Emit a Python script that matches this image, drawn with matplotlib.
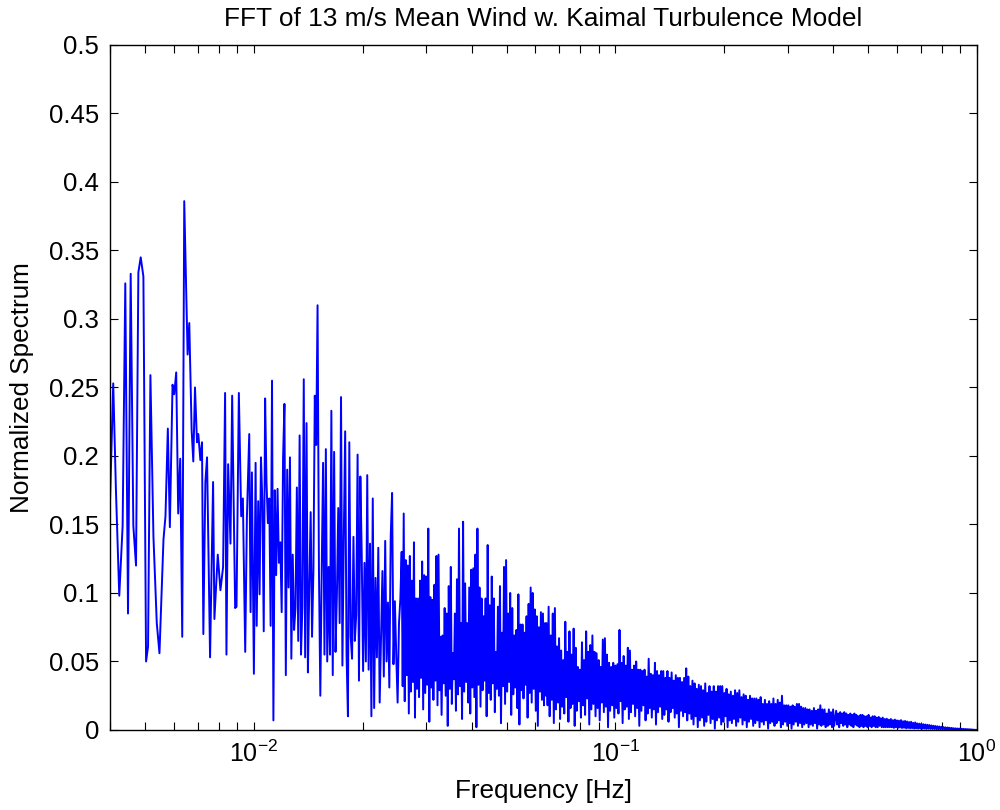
import numpy as np
import matplotlib
matplotlib.use('Agg')
import matplotlib.pyplot as plt
from matplotlib.ticker import FormatStrFormatter

plt.rcParams['font.family'] = ['Liberation Sans', 'DejaVu Sans']
plt.rcParams['mathtext.default'] = 'regular'

# low frequency part, individual FFT bins
freqA = [0.003981, 0.004083, 0.004154, 0.004243, 0.004335, 0.004409, 0.004486, 0.004563, 0.004641, 0.004721,
         0.004792, 0.004864, 0.004948, 0.005033, 0.005097, 0.005174, 0.005275, 0.005388, 0.005481, 0.005623,
         0.005695, 0.005781, 0.005856, 0.005957, 0.006020, 0.006098, 0.006176, 0.006256, 0.006337, 0.006418,
         0.006557, 0.006627, 0.006727, 0.006799, 0.006873, 0.006961, 0.007020, 0.007111, 0.007187, 0.007248,
         0.007342, 0.007421, 0.007565, 0.007712, 0.007777, 0.007945, 0.008081, 0.008220, 0.008325, 0.008397,
         0.008488, 0.008615, 0.008708, 0.008876, 0.008953, 0.009087, 0.009224, 0.009323, 0.009463, 0.009565,
         0.009709, 0.009792, 0.009875, 0.010000, 0.01011, 0.01018]
specA = [0.146, 0.253, 0.175, 0.098, 0.149, 0.326, 0.085, 0.333, 0.149, 0.120,
         0.334, 0.345, 0.331, 0.050, 0.061, 0.259, 0.141, 0.078, 0.056, 0.139,
         0.156, 0.220, 0.148, 0.252, 0.245, 0.261, 0.158, 0.198, 0.068, 0.386,
         0.274, 0.297, 0.219, 0.196, 0.250, 0.210, 0.216, 0.197, 0.210, 0.070,
         0.181, 0.199, 0.053, 0.181, 0.081, 0.128, 0.102, 0.119, 0.246, 0.055,
         0.194, 0.136, 0.244, 0.089, 0.090, 0.246, 0.156, 0.169, 0.057, 0.155,
         0.216, 0.086, 0.188, 0.041, 0.195, 0.076]

# 0.0103 - 0.0254 Hz
rangeB = (0.01028, 0.02542)
specB = [0.167, 0.099, 0.199, 0.167, 0.072, 0.242, 0.181, 0.151, 0.169, 0.076, 0.255, 0.007, 0.175, 0.113,
         0.176, 0.122, 0.137, 0.086, 0.198, 0.238, 0.040, 0.190, 0.104, 0.199, 0.052, 0.128, 0.073, 0.089,
         0.177, 0.065, 0.215, 0.055, 0.090, 0.256, 0.053, 0.224, 0.042, 0.104, 0.159, 0.068, 0.117, 0.244,
         0.208, 0.310, 0.117, 0.025, 0.116, 0.195, 0.055, 0.205, 0.050, 0.119, 0.055, 0.233, 0.040, 0.203,
         0.057, 0.098, 0.162, 0.078, 0.243, 0.047, 0.141, 0.218, 0.055, 0.010, 0.210, 0.068, 0.052, 0.141,
         0.065, 0.084, 0.201, 0.036, 0.185, 0.128, 0.043, 0.122, 0.050, 0.186, 0.044, 0.136, 0.010, 0.169,
         0.016, 0.111, 0.053, 0.133, 0.020, 0.070, 0.116, 0.039, 0.138, 0.050, 0.093, 0.031, 0.141, 0.173,
         0.048, 0.094, 0.055, 0.020, 0.078, 0.096]

# denser part: peaks and troughs in turn
rangeC = (0.02563, 0.06427)
peaksC = [0.130, 0.158, 0.124, 0.120, 0.127, 0.109, 0.137, 0.096, 0.096, 0.109, 0.123, 0.113, 0.112, 0.147,
          0.097, 0.095, 0.106, 0.127, 0.128, 0.068, 0.069, 0.089, 0.085, 0.105, 0.119, 0.056, 0.085, 0.110,
          0.147, 0.078, 0.152, 0.107, 0.078, 0.104, 0.117, 0.118, 0.128, 0.147, 0.104, 0.096, 0.083, 0.096,
          0.135, 0.091, 0.112, 0.096, 0.057, 0.090, 0.105, 0.071, 0.119, 0.124, 0.085, 0.100, 0.089, 0.069,
          0.073, 0.099, 0.077, 0.077, 0.071, 0.083, 0.092, 0.104, 0.100, 0.088, 0.083, 0.075, 0.086, 0.085,
          0.078]
troughsC = [0.032, 0.021, 0.040, 0.012, 0.028, 0.035, 0.009, 0.030, 0.024, 0.038, 0.015, 0.027, 0.033, 0.006,
            0.031, 0.022, 0.036, 0.018, 0.029, 0.011, 0.034, 0.025, 0.003, 0.030, 0.019, 0.037, 0.014, 0.026,
            0.032, 0.008, 0.028, 0.035, 0.020, 0.012, 0.031, 0.024, 0.002, 0.033, 0.017, 0.029, 0.036, 0.010,
            0.027, 0.022, 0.034, 0.013, 0.030, 0.025, 0.005, 0.032, 0.019, 0.028, 0.035, 0.011, 0.026, 0.031,
            0.016, 0.004, 0.029, 0.023, 0.033, 0.009, 0.027, 0.020, 0.030, 0.014, 0.003, 0.028, 0.022, 0.018,
            0.025]

rangeD = (0.06448, 0.1601)
peaksD = [0.078, 0.090, 0.069, 0.085, 0.089, 0.061, 0.067, 0.058, 0.051, 0.079, 0.057, 0.072, 0.055, 0.074,
          0.060, 0.046, 0.044, 0.064, 0.051, 0.072, 0.057, 0.062, 0.069, 0.057, 0.056, 0.051, 0.046, 0.066,
          0.067, 0.055, 0.049, 0.046, 0.049, 0.047, 0.048, 0.073, 0.049, 0.054, 0.047, 0.060, 0.058, 0.044,
          0.047, 0.050, 0.044, 0.044, 0.043, 0.044, 0.039, 0.052, 0.041, 0.040, 0.049, 0.043, 0.040, 0.043,
          0.043, 0.038, 0.043, 0.038, 0.042, 0.036, 0.040, 0.038, 0.038, 0.035, 0.038, 0.045, 0.039]
troughsD = [0.018, 0.010, 0.022, 0.005, 0.015, 0.020, 0.008, 0.017, 0.012, 0.024, 0.006, 0.016, 0.019, 0.003,
            0.014, 0.021, 0.009, 0.018, 0.011, 0.023, 0.004, 0.015, 0.019, 0.010, 0.016, 0.007, 0.020, 0.013,
            0.017, 0.002, 0.014, 0.018, 0.009, 0.016, 0.012, 0.021, 0.005, 0.015, 0.017, 0.008, 0.013, 0.019,
            0.010, 0.016, 0.003, 0.014, 0.018, 0.007, 0.012, 0.016, 0.009, 0.015, 0.004, 0.013, 0.017, 0.008,
            0.011, 0.015, 0.006, 0.013, 0.016, 0.009, 0.012, 0.002, 0.014, 0.010, 0.013, 0.007, 0.012]

rangeE = (0.1611, 0.4027)
peaksE = [0.032, 0.036, 0.034, 0.030, 0.033, 0.032, 0.029, 0.034, 0.027, 0.032, 0.028, 0.032, 0.028, 0.032,
          0.032, 0.032, 0.027, 0.030, 0.026, 0.028, 0.025, 0.029, 0.027, 0.029, 0.024, 0.026, 0.025, 0.022,
          0.025, 0.023, 0.023, 0.023, 0.022, 0.024, 0.019, 0.022, 0.019, 0.021, 0.019, 0.023, 0.019, 0.022,
          0.020, 0.025, 0.018, 0.018, 0.018, 0.017, 0.018, 0.017, 0.019, 0.019, 0.017, 0.016, 0.016, 0.015,
          0.015, 0.014, 0.016, 0.014, 0.015, 0.018, 0.015, 0.015, 0.012, 0.015, 0.013, 0.015]
troughsE = [0.008, 0.004, 0.010, 0.002, 0.007, 0.009, 0.003, 0.006, 0.011, 0.005, 0.008, 0.001, 0.007, 0.009,
            0.004, 0.006, 0.010, 0.002, 0.007, 0.005, 0.008, 0.003, 0.006, 0.009, 0.004, 0.007, 0.002, 0.006,
            0.008, 0.003, 0.005, 0.007, 0.002, 0.006, 0.004, 0.007, 0.001, 0.005, 0.006, 0.003, 0.005, 0.007,
            0.002, 0.004, 0.006, 0.003, 0.005, 0.001, 0.004, 0.006, 0.003, 0.005, 0.002, 0.004, 0.005, 0.002,
            0.004, 0.003, 0.005, 0.001, 0.004, 0.003, 0.004, 0.002, 0.003, 0.004, 0.002, 0.003]

rangeF = (0.4078, 1.0)
peaksF = [0.014, 0.012, 0.013, 0.012, 0.013, 0.012, 0.011, 0.012, 0.011, 0.012,
          0.011, 0.010, 0.011, 0.011, 0.010, 0.010, 0.011, 0.009, 0.010, 0.010,
          0.009, 0.0095, 0.0085, 0.009, 0.008, 0.0082, 0.0075, 0.008, 0.0072, 0.0076,
          0.007, 0.0068, 0.0072, 0.0064, 0.0066, 0.0062, 0.0058, 0.006, 0.0052, 0.0055,
          0.0048, 0.0046, 0.0044, 0.0042, 0.004, 0.0038, 0.0036, 0.0033, 0.0031, 0.0029,
          0.0027, 0.0025, 0.0023, 0.0021, 0.0019, 0.0018, 0.0016, 0.0015, 0.0013, 0.0012,
          0.0011, 0.0010, 0.0009, 0.0008, 0.0007, 0.0006, 0.0005, 0.0004, 0.0002, 0.0001]
troughsF = [0.004, 0.002, 0.005, 0.003, 0.004, 0.002, 0.004, 0.003, 0.002, 0.004,
            0.003, 0.002, 0.003, 0.002, 0.003, 0.002, 0.003, 0.002, 0.003, 0.002,
            0.002, 0.003, 0.002, 0.002, 0.002, 0.002, 0.002, 0.002, 0.0015, 0.002,
            0.0015, 0.0018, 0.0014, 0.0016, 0.0012, 0.0014, 0.0012, 0.0013, 0.001, 0.0012,
            0.001, 0.0011, 0.0009, 0.001, 0.0008, 0.0009, 0.0008, 0.0007, 0.0007, 0.0006,
            0.0006, 0.0005, 0.0005, 0.0004, 0.0004, 0.0004, 0.0003, 0.0003, 0.0003, 0.0002,
            0.0002, 0.0002, 0.0002, 0.0001, 0.0001, 0.0001, 0.0001, 0.0, 0.0, 0.0]


def interleave(peaks, troughs):
    out = []
    for p, t in zip(peaks, troughs):
        out += [p, t]
    return out


freq = list(freqA)
spec = list(specA)
freq += list(np.geomspace(rangeB[0], rangeB[1], len(specB)))
spec += specB
for rng, pk, tr in [(rangeC, peaksC, troughsC), (rangeD, peaksD, troughsD),
                    (rangeE, peaksE, troughsE), (rangeF, peaksF, troughsF)]:
    v = interleave(pk, tr)
    freq += list(np.geomspace(rng[0], rng[1], len(v)))
    spec += v

fig = plt.figure(figsize=(10, 8.1), dpi=100)
ax = fig.add_axes([0.110, 0.0988, 0.867, 0.8457])
ax.plot(freq, spec, color='#0000ff', lw=1.4)

ax.set_xscale('log')
ax.set_xlim(0.004, 1)
ax.set_ylim(0, 0.5)
ax.set_yticks(np.arange(0, 0.51, 0.05))
ax.yaxis.set_major_formatter(FormatStrFormatter('%g'))
ax.tick_params(which='both', direction='in', top=True, right=True, length=6, width=0.8)
ax.tick_params(axis='y', which='major', labelsize=18.5, pad=8)
ax.tick_params(axis='x', which='major', labelsize=18, pad=8)
for s in ax.spines.values():
    s.set_linewidth(1.0)

ax.set_title('FFT of 13 m/s Mean Wind w. Kaimal Turbulence Model', fontsize=18.9, pad=14)
ax.set_xlabel('Frequency [Hz]', fontsize=18.8)
ax.set_ylabel('Normalized Spectrum', fontsize=18.8)
ax.xaxis.set_label_coords(0.5, -0.072)
ax.yaxis.set_label_coords(-0.0877, 0.5)

fig.savefig('out.png', dpi=100)
